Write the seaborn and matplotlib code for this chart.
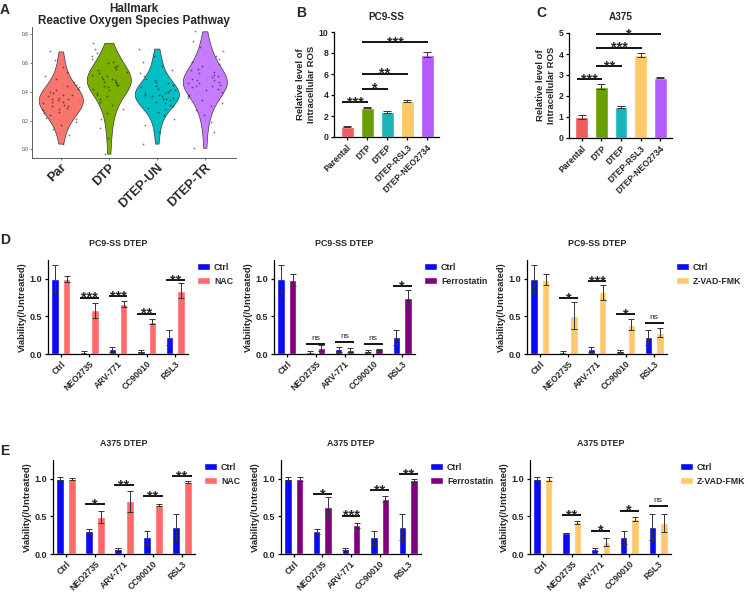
import numpy as np
import pandas as pd
import matplotlib
matplotlib.use("Agg")
import matplotlib.pyplot as plt
import seaborn as sns

sns.set_theme(style="ticks")
plt.rcParams["font.family"] = ["Liberation Sans", "DejaVu Sans"]
plt.rcParams["font.weight"] = "bold"

# ---- panel A: hallmark ROS score per cell (quantiles)
violin_groups = ["Par", "DTP", "DTEP-UN", "DTEP-TR"]
violin_colors = ["#F8766D", "#7CAE00", "#00BFC4", "#C77CFF"]
score_par = [0.04, 0.10, 0.14, 0.17, 0.19, 0.21, 0.22, 0.24, 0.25, 0.26,
             0.27, 0.28, 0.29, 0.30, 0.30, 0.31, 0.32, 0.33, 0.33, 0.34,
             0.35, 0.35, 0.36, 0.37, 0.38, 0.38, 0.39, 0.40, 0.41, 0.42,
             0.43, 0.44, 0.45, 0.47, 0.49, 0.51, 0.54, 0.57, 0.62, 0.68]
score_dtp = [-0.03, 0.08, 0.15, 0.21, 0.25, 0.28, 0.31, 0.33, 0.35, 0.37,
             0.38, 0.39, 0.41, 0.42, 0.43, 0.44, 0.45, 0.45, 0.46, 0.47,
             0.47, 0.48, 0.49, 0.49, 0.50, 0.51, 0.52, 0.53, 0.54, 0.55,
             0.56, 0.57, 0.58, 0.60, 0.61, 0.63, 0.65, 0.67, 0.70, 0.74]
score_dtep_un = [0.04, 0.12, 0.17, 0.21, 0.24, 0.26, 0.28, 0.29, 0.30, 0.31,
                 0.32, 0.33, 0.34, 0.35, 0.35, 0.36, 0.37, 0.37, 0.38, 0.38,
                 0.39, 0.39, 0.40, 0.41, 0.41, 0.42, 0.43, 0.44, 0.45, 0.46,
                 0.47, 0.48, 0.49, 0.51, 0.53, 0.55, 0.58, 0.61, 0.65, 0.70]
score_dtep_tr = [0.01, 0.12, 0.19, 0.24, 0.27, 0.30, 0.32, 0.34, 0.36, 0.37,
                 0.38, 0.40, 0.41, 0.42, 0.43, 0.44, 0.44, 0.45, 0.46, 0.46,
                 0.47, 0.48, 0.48, 0.49, 0.50, 0.51, 0.52, 0.53, 0.54, 0.55,
                 0.56, 0.58, 0.59, 0.61, 0.63, 0.65, 0.68, 0.71, 0.75, 0.82]

# ---- panels B, C: relative intracellular ROS
ros_groups = ["Parental", "DTP", "DTEP", "DTEP-RSL3", "DTEP-NEO2734"]
ros_colors = ["#F05D5E", "#6A9E06", "#1BB4B8", "#FFC966", "#B45CFB"]
pc9_ros = [1.0, 2.8, 2.35, 3.45, 7.85]
pc9_ros_err = [0.05, 0.07, 0.1, 0.12, 0.2]
pc9_ros_sig = [(0, 1, 3.33, "***"), (1, 2, 4.6, "*"), (1, 3, 6.03, "**"), (1, 4, 9.05, "***")]
a375_ros = [1.0, 2.45, 1.47, 3.95, 2.88]
a375_ros_err = [0.08, 0.12, 0.05, 0.08, 0.02]
a375_ros_sig = [(0, 1, 2.79, "***"), (1, 2, 3.43, "**"), (1, 3, 4.3, "***"), (1, 4, 4.94, "*")]

# ---- panels D, E: viability with rescue treatments
drugs = ["Ctrl", "NEO2735", "ARV-771", "CC90010", "RSL3"]
ctrl_color = "#0A0AF5"
pc9_ctrl = [1.0, 0.02, 0.06, 0.04, 0.22]
pc9_ctrl_err = [0.18, 0.02, 0.035, 0.015, 0.1]
pc9_nac = [1.0, 0.58, 0.66, 0.43, 0.84]
pc9_nac_err = [0.04, 0.1, 0.04, 0.035, 0.1]
pc9_nac_sig = [(1, 0.75, "***"), (2, 0.765, "***"), (3, 0.535, "**"), (4, 0.98, "**")]
pc9_fer = [0.99, 0.08, 0.05, 0.06, 0.74]
pc9_fer_err = [0.08, 0.035, 0.03, 0.01, 0.11]
pc9_fer_sig = [(1, 0.138, "ns"), (2, 0.16, "ns"), (3, 0.13, "ns"), (4, 0.90, "*")]
pc9_zvad = [0.99, 0.51, 0.82, 0.39, 0.28]
pc9_zvad_err = [0.07, 0.18, 0.1, 0.07, 0.06]
pc9_zvad_sig = [(1, 0.747, "*"), (2, 0.97, "***"), (3, 0.533, "*"), (4, 0.413, "ns")]

a375_ctrl = [1.0, 0.30, 0.065, 0.22, 0.36]
a375_ctrl_err = [0.02, 0.03, 0.012, 0.09, 0.17]
a375_nac = [1.0, 0.49, 0.70, 0.65, 0.96]
a375_nac_err = [0.01, 0.08, 0.14, 0.01, 0.01]
a375_nac_sig = [(1, 0.667, "*"), (2, 0.915, "**"), (3, 0.77, "**"), (4, 1.035, "**")]
a375_fer = [1.0, 0.63, 0.38, 0.73, 0.98]
a375_fer_err = [0.03, 0.13, 0.03, 0.04, 0.02]
a375_fer_sig = [(1, 0.80, "*"), (2, 0.51, "***"), (3, 0.845, "**"), (4, 1.066, "**")]
a375_zvad_ctrl = [1.0, 0.28, 0.06, 0.22, 0.36]
a375_zvad_ctrl_err = [0.02, 0.005, 0.015, 0.09, 0.17]
a375_zvad = [1.0, 0.42, 0.16, 0.47, 0.41]
a375_zvad_err = [0.03, 0.02, 0.05, 0.025, 0.12]
a375_zvad_sig = [(1, 0.515, "**"), (2, 0.31, "*"), (3, 0.578, "*"), (4, 0.64, "ns")]

W, H = 748, 594


def rect(left, right, top, bottom):
    """pixel box -> figure fraction"""
    return [left / W, 1 - bottom / H, (right - left) / W, (bottom - top) / H]


def style_axis(ax, lw=0.9):
    for s in ["top", "right"]:
        ax.spines[s].set_visible(False)
    for s in ["left", "bottom"]:
        ax.spines[s].set_linewidth(lw)
        ax.spines[s].set_color("black")
    ax.tick_params(length=2.5, width=lw, color="black", pad=1.5)
    ax.set_xlabel("")


def add_sig(ax, x0, x1, y, label):
    ax.plot([x0, x1], [y, y], color="black", lw=1.3, solid_capstyle="butt", clip_on=False)
    xc = (x0 + x1) / 2
    if label == "ns":
        ax.annotate(label, xy=(xc, y), xytext=(0, 1.5), textcoords="offset points",
                    ha="center", va="bottom", fontsize=6, fontweight="normal")
    else:
        ax.annotate(label, xy=(xc, y), xytext=(0, -3.0), textcoords="offset points",
                    ha="center", va="baseline", fontsize=10.5, fontweight="bold",
                    annotation_clip=False)


def draw_ros(ax, values, errs, comps, ymax, step, title):
    df = pd.DataFrame({"group": ros_groups, "value": values})
    sns.barplot(data=df, x="group", y="value", hue="group", palette=ros_colors,
                legend=False, width=0.65, saturation=1, errorbar=None, ax=ax)
    ax.errorbar(range(len(values)), values, yerr=errs, fmt="none", ecolor="#333333",
                elinewidth=0.7, capsize=2.8, capthick=0.7)
    for i, j, y, lab in comps:
        add_sig(ax, i - 0.25, j + 0.05, y, lab)
    ax.set_xlim(-0.65, 4.6)
    ax.set_ylim(0, ymax)
    ax.set_yticks(np.arange(0, ymax + 0.01, step))
    style_axis(ax)
    ax.set_ylabel("Relative level of\nIntracellular ROS", fontsize=6.8, fontweight="bold",
                  linespacing=1.25, labelpad=2)
    ax.set_title(title, fontsize=7.2, fontweight="bold", pad=9)
    plt.setp(ax.get_xticklabels(), rotation=45, ha="right", va="top",
             rotation_mode="anchor", fontsize=6.2, fontweight="bold")
    plt.setp(ax.get_yticklabels(), fontsize=6.2, fontweight="bold")


def draw_viability(ax, ctrl, ctrl_err, trt, trt_err, trt_name, trt_color, sigs, title):
    df = pd.DataFrame({
        "drug": drugs * 2,
        "condition": ["Ctrl"] * len(drugs) + [trt_name] * len(drugs),
        "value": ctrl + trt,
    })
    sns.barplot(data=df, x="drug", y="value", hue="condition",
                palette=[ctrl_color, trt_color], width=0.8, gap=0.35,
                saturation=1, errorbar=None, ax=ax)
    for cont, errs in zip(ax.containers, [ctrl_err, trt_err]):
        for bar, e in zip(cont, errs):
            xc = bar.get_x() + bar.get_width() / 2
            ax.errorbar(xc, bar.get_height(), yerr=e, fmt="none", ecolor="#333333",
                        elinewidth=0.7, capsize=2.0, capthick=0.7)
    for i, y, lab in sigs:
        add_sig(ax, i - 0.33, i + 0.33, y, lab)
    ax.set_xlim(-0.45, 4.45)
    ax.set_ylim(0, 1.25)
    ax.set_yticks([0, 0.5, 1.0])
    ax.set_yticklabels(["0.0", "0.5", "1.0"])
    style_axis(ax)
    ax.set_ylabel("Viability(/Untreated)", fontsize=6.8, fontweight="bold", labelpad=2)
    ax.set_title(title, fontsize=6.4, fontweight="bold", pad=10)
    plt.setp(ax.get_xticklabels(), rotation=45, ha="right", va="top",
             rotation_mode="anchor", fontsize=6.2, fontweight="bold")
    plt.setp(ax.get_yticklabels(), fontsize=6.5, fontweight="bold")
    handles, labels = ax.get_legend_handles_labels()
    off = 9.0 / (ax.get_position().width * W)
    ax.legend(handles, labels, loc="upper left", bbox_to_anchor=(1 + off, 0.97),
              frameon=False, borderpad=0, borderaxespad=0, handlelength=1.45,
              handleheight=0.85, handletextpad=0.5, labelspacing=0.55,
              prop={"size": 6.3, "weight": "bold"})


fig = plt.figure(figsize=(7.48, 5.94), dpi=100)

# A
np.random.seed(3)
scores = [score_par, score_dtp, score_dtep_un, score_dtep_tr]
score_df = pd.DataFrame({
    "group": np.repeat(violin_groups, [len(s) for s in scores]),
    "score": np.concatenate(scores),
})
axA = fig.add_axes(rect(32, 236, 27, 158))
sns.violinplot(data=score_df, x="group", y="score", hue="group", palette=violin_colors,
               legend=False, cut=0, inner=None, density_norm="width", width=0.92,
               linewidth=0.5, linecolor="#3a3a3a", saturation=1, bw_adjust=0.9, ax=axA)
sns.stripplot(data=score_df, x="group", y="score", color="black", size=1.3,
              alpha=0.5, jitter=0.4, ax=axA)
axA.set_xlim(-0.6, 3.65)
axA.set_ylim(-0.06, 0.85)
axA.set_yticks([0, 0.2, 0.4, 0.6, 0.8])
axA.set_yticklabels(["0.0", "0.2", "0.4", "0.6", "0.8"])
style_axis(axA, lw=0.6)
for s in ["left", "bottom"]:
    axA.spines[s].set_color("#444444")
axA.tick_params(length=1.5, width=0.5, color="#444444", pad=1)
axA.set_ylabel("")
plt.setp(axA.get_yticklabels(), fontsize=3.5, fontweight="normal", color="#444444")
plt.setp(axA.get_xticklabels(), rotation=45, ha="right", va="top",
         rotation_mode="anchor", fontsize=9.2, fontweight="bold")
axA.set_title("Hallmark\nReactive Oxygen Species Pathway", fontsize=8.4,
              fontweight="bold", pad=1, linespacing=1.0)

# B, C
axB = fig.add_axes(rect(334, 439, 32, 137))
draw_ros(axB, pc9_ros, pc9_ros_err, pc9_ros_sig, 10, 2, "PC9-SS")
axC = fig.add_axes(rect(569, 672, 33, 138))
draw_ros(axC, a375_ros, a375_ros_err, a375_ros_sig, 5, 1, "A375")

# D
axD1 = fig.add_axes(rect(48, 188, 260, 354))
draw_viability(axD1, pc9_ctrl, pc9_ctrl_err, pc9_nac, pc9_nac_err, "NAC", "#FF6B6B",
               pc9_nac_sig, "PC9-SS DTEP")
axD2 = fig.add_axes(rect(274, 415, 260, 354))
draw_viability(axD2, pc9_ctrl, pc9_ctrl_err, pc9_fer, pc9_fer_err, "Ferrostatin", "#800080",
               pc9_fer_sig, "PC9-SS DTEP")
axD3 = fig.add_axes(rect(527, 667, 260, 354))
draw_viability(axD3, pc9_ctrl, pc9_ctrl_err, pc9_zvad, pc9_zvad_err, "Z-VAD-FMK", "#FFC96B",
               pc9_zvad_sig, "PC9-SS DTEP")

# E
axE1 = fig.add_axes(rect(53, 195, 460, 554))
draw_viability(axE1, a375_ctrl, a375_ctrl_err, a375_nac, a375_nac_err, "NAC", "#FF6B6B",
               a375_nac_sig, "A375 DTEP")
axE2 = fig.add_axes(rect(281, 421, 460, 554))
draw_viability(axE2, a375_ctrl, a375_ctrl_err, a375_fer, a375_fer_err, "Ferrostatin", "#800080",
               a375_fer_sig, "A375 DTEP")
axE3 = fig.add_axes(rect(530, 671, 460, 554))
draw_viability(axE3, a375_zvad_ctrl, a375_zvad_ctrl_err, a375_zvad, a375_zvad_err,
               "Z-VAD-FMK", "#FFC96B", a375_zvad_sig, "A375 DTEP")

# panel letters
for letter, (px, py) in {"A": (0, 3), "B": (296, 6), "C": (536, 6),
                         "D": (0, 233), "E": (0, 444)}.items():
    fig.text(px / W, 1 - py / H, letter, fontsize=10, fontweight="bold", va="top", ha="left")

fig.savefig("out.png", dpi=100)
